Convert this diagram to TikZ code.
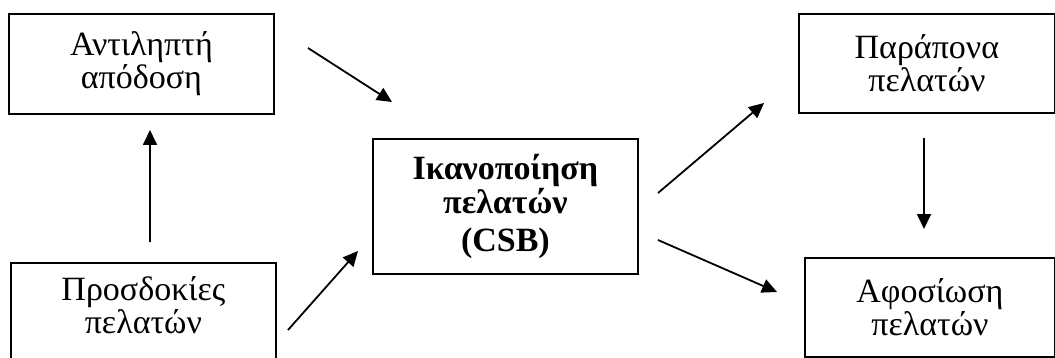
\documentclass[tikz,border=0pt]{standalone}
\usepackage{fontspec}
\setmainfont{Liberation Serif}
\usetikzlibrary{arrows.meta}

\begin{document}
\begin{tikzpicture}[x = 0.5pt, y = -0.5pt, % one unit = one pixel of the sketch
                > = {Triangle[length = 7.5pt, width = 7pt]}, % arrow head style
                line width = 0.9pt % line style
            ]

            \tikzstyle{every node}=[draw = black, rectangle, anchor = north west,
            line width = 0.9pt, align = center, inner sep = 0pt,
            font = \fontsize{17}{16.5}\selectfont]

            \clip (0,0) rectangle (1055,358);

            \node (perc) at (8,13) [minimum width = 132.5pt, minimum height = 50pt]
            {Αντιληπτή\\απόδοση};
            \node (expect) at (10,262) [minimum width = 132.5pt, inner ysep = 7pt,
            text depth = 40pt] {Προσδοκίες\\πελατών};
            \node (sat) at (372,138) [minimum width = 132.5pt, minimum height = 67.5pt,
            font = \fontsize{17}{17}\selectfont\bfseries]
            {Ικανοποίηση\\πελατών\\[2pt](CSB)};
            \node (compl) at (798,13) [minimum width = 128pt, minimum height = 49.5pt]
            {Παράπονα\\πελατών};
            \node (loyal) at (804,257) [minimum width = 125pt, minimum height = 49.5pt]
            {Αφοσίωση\\πελατών};

            % loose ends of the arrows
            \coordinate (ps) at (308,48);  \coordinate (pe) at (392,102);
            \coordinate (es) at (150,242); \coordinate (ee) at (150,130);
            \coordinate (xs) at (288,330); \coordinate (xe) at (358,251);
            \coordinate (cs) at (658,193); \coordinate (ce) at (764,103);
            \coordinate (ls) at (658,240); \coordinate (le) at (777,292);
            \coordinate (ds) at (924,138); \coordinate (de) at (924,229);

            \draw[->] (ps) -- (pe); \draw[->] (es) -- (ee); \draw[->] (xs) --
            (xe); \draw[->] (cs) -- (ce); \draw[->] (ls) -- (le); \draw[->] (ds)
            -- (de);
        \end{tikzpicture}
\end{document}
